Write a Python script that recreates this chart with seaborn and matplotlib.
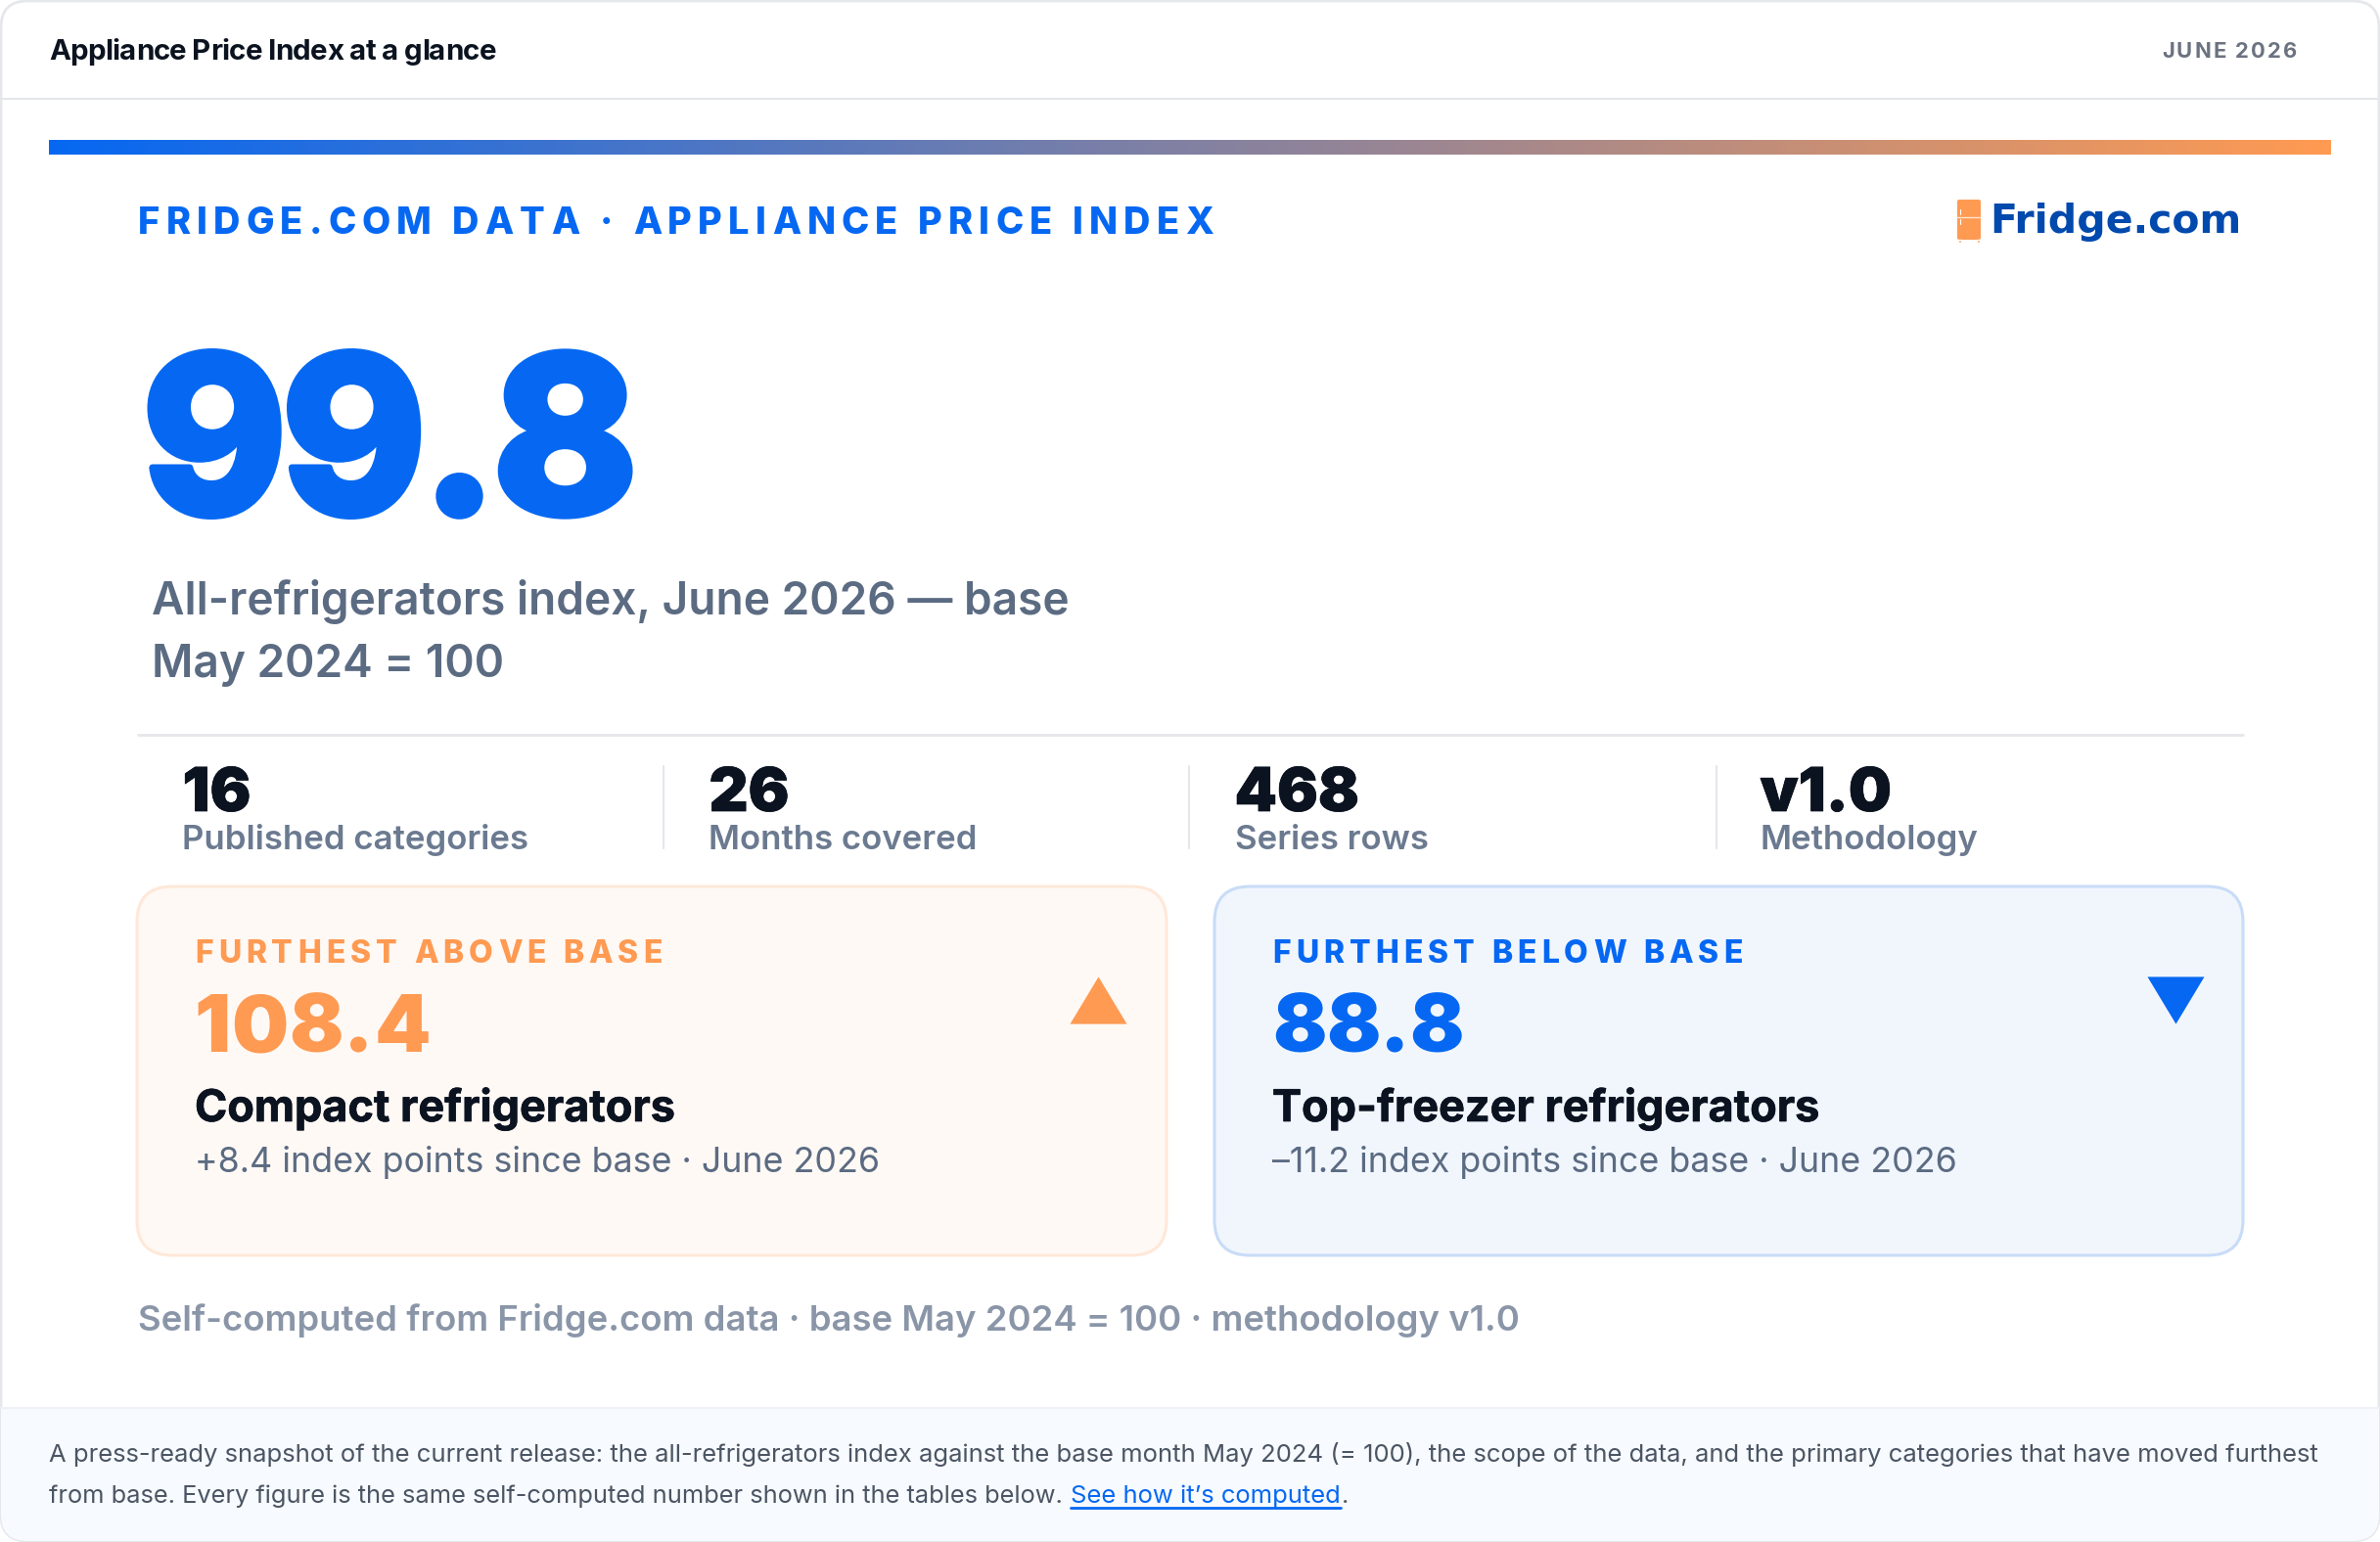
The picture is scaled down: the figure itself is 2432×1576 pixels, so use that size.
import matplotlib
matplotlib.use("Agg")
import matplotlib.pyplot as plt
import numpy as np
import pandas as pd
import seaborn as sns
from matplotlib import font_manager as fm
from matplotlib.colors import LinearSegmentedColormap
from matplotlib.ft2font import LoadFlags
from matplotlib.patches import FancyBboxPatch, Rectangle
from matplotlib.patheffects import withStroke

# Values and wording of the snapshot
headline_value = "99.8"
stat_values = ["16", "26", "468", "v1.0"]
stat_labels = ["Published categories", "Months covered", "Series rows", "Methodology"]
card_kickers = ["FURTHEST ABOVE BASE", "FURTHEST BELOW BASE"]
card_values = ["108.4", "88.8"]
card_names = ["Compact refrigerators", "Top-freezer refrigerators"]
card_notes = ["+8.4 index points since base · June 2026", "–11.2 index points since base · June 2026"]
card_direction = ["up", "down"]

BLUE = "#0668f2"
ORANGE = "#ff9a52"
INK = "#0b1320"
SLATE = "#5b6b82"

sns.set_theme(style="white")
plt.rcParams["font.family"] = ["Inter", "DejaVu Sans"]

W, H = 2432, 1576
fig = plt.figure(figsize=(W / 100, H / 100), dpi=100, facecolor="white")
ax = fig.add_axes([0, 0, 1, 1])


def txt(x, y, s, px, weight="normal", color=INK, ha="left", family=None, stroke=0):
    t = ax.text(x, y, s, fontsize=px * 0.72, fontweight=weight, color=color, ha=ha, va="baseline", family=family)
    if stroke:
        t.set_path_effects([withStroke(linewidth=stroke, foreground=color)])
    return t


def spaced(x0, x1, y, s, px, weight, color, stroke=0):
    # matplotlib has no letter spacing, so each glyph goes down on its own
    prop = fm.FontProperties(family="Inter", weight=weight)
    font = fm.get_font(fm.findfont(prop))
    font.set_size(px, 72)
    adv = [font.load_char(ord(c), flags=LoadFlags.NO_HINTING).linearHoriAdvance / 65536 for c in s]
    gap = (x1 - x0 - sum(adv)) / (len(s) - 1)
    x = x0
    for c, a in zip(s, adv):
        txt(x, y, c, px, weight, color, stroke=stroke)
        x += a + gap


def box(x0, y0, x1, y1, r, face, edge, lw, z=1):
    p = FancyBboxPatch((x0, y0), x1 - x0, y1 - y0, boxstyle=f"round,pad=0,rounding_size={r}",
                       facecolor=face, edgecolor=edge, linewidth=lw, zorder=z)
    ax.add_patch(p)
    return p


# outer frame, header rule, footer strip
frame = box(1, 1, W - 1, H - 1, 27, "white", "#e5e7eb", 2.0, z=0)
footer = Rectangle((0, 1439), W, H - 1439, facecolor="#f7fafe", edgecolor="none", zorder=0.5)
ax.add_patch(footer)
footer.set_clip_path(frame)
ax.plot([1, W - 1], [1439, 1439], color="#eef1f5", lw=1.5, zorder=0.6)
ax.plot([1, W - 1], [101, 101], color="#e5e7eb", lw=1.5)

spaced(50, 507, 61, "Appliance Price Index at a glance", 29.5, "bold", INK)
spaced(2209, 2347, 58.7, "JUNE 2026", 22, "bold", "#6b7280")

# gradient rule
cmap = LinearSegmentedColormap.from_list("rule", [BLUE, ORANGE])
ax.imshow(np.linspace(0, 1, 512).reshape(1, -1), extent=(50, 2382, 158, 143), cmap=cmap, aspect="auto", zorder=1)

spaced(141, 1240, 239, "FRIDGE.COM DATA · APPLIANCE PRICE INDEX", 38, "heavy", BLUE)

# logo
box(2000, 204, 2024, 245, 2, ORANGE, "none", 0, z=2)
ax.plot([2000, 2024], [221.7, 221.7], color="#ffe3cf", lw=1, zorder=3)
ax.plot([2002.5, 2002.5, np.nan, 2002.5, 2002.5], [214, 219, np.nan, 224, 229], color="white", lw=0.8, zorder=3)
ax.add_patch(Rectangle((2001, 245), 3, 3, facecolor=ORANGE, zorder=2))
ax.add_patch(Rectangle((2020, 245), 3, 3, facecolor=ORANGE, zorder=2))
txt(2033, 238, "Fridge.com", 41, "bold", "#0049ad", family="DejaVu Sans")

# headline
spaced(145, 652, 525, headline_value, 224, "heavy", BLUE, stroke=5)
txt(155, 628, "All-refrigerators index, June 2026 — base", 46, "semibold", SLATE)
txt(155, 692, "May 2024 = 100", 46, "semibold", SLATE)
ax.plot([141, 2292], [751, 751], color="#e5e7eb", lw=2)

# scope stats
stat_x = [186.5, 724.5, 1261.5, 1798.5]
for x, v, lab in zip(stat_x, stat_values, stat_labels):
    txt(x, 829, v, 62, "black", INK, stroke=0.5)
    txt(x, 868, lab, 34.8, "semibold", "#6b7a90")
for x in [678, 1215, 1754]:
    ax.plot([x, x], [783, 867], color="#e5e7eb", lw=1.5)

# the two movers
card_x = [(140, 1192), (1241, 2292)]
card_face = ["#fff9f5", "#f1f6fd"]
card_edge = ["#ffe8d9", "#c8dcf7"]
card_color = [ORANGE, BLUE]
kick_x = [(199, 677), (1300, 1781)]
value_x = [(198, 440), (1300, 1496)]
for i in range(2):
    x0, x1 = card_x[i]
    box(x0, 906, x1, 1283, 36, card_face[i], card_edge[i], 2.2)
    tx = x0 + 59
    spaced(kick_x[i][0], kick_x[i][1], 984, card_kickers[i], 32, "heavy", card_color[i])
    spaced(value_x[i][0], value_x[i][1], 1075, card_values[i], 82, "black", card_color[i])
    txt(tx, 1146, card_names[i], 45, "bold", INK, stroke=0.5)
    txt(tx, 1198, card_notes[i], 35.8, "normal", SLATE)

# direction markers go through seaborn so they sit on the same axes
up = [(-1, -0.83), (1, -0.83), (0, 0.83)]
down = [(-1, 0.83), (1, 0.83), (0, -0.83)]
tri = pd.DataFrame({"x": [1122, 2223], "y": [1022, 1022], "dir": card_direction})
for d, verts, c in zip(["up", "down"], [up, down], card_color):
    sns.scatterplot(data=tri[tri["dir"] == d], x="x", y="y", marker=verts, s=1747, color=c,
                    linewidth=0, legend=False, ax=ax, zorder=4)

txt(141, 1360, "Self-computed from Fridge.com data · base May 2024 = 100 · methodology v1.0", 36.5, "semibold", "#8a96a8")

# footnote
NOTE = "#4b5563"
txt(50, 1494, "A press-ready snapshot of the current release: the all-refrigerators index against the base month May 2024 (= 100), the scope of the data, and the primary categories that have moved furthest", 25.65, "normal", NOTE)
txt(50, 1536, "from base. Every figure is the same self-computed number shown in the tables below.", 25.4, "normal", NOTE)
txt(1094, 1536, "See how it’s computed", 25.6, "normal", BLUE)
ax.plot([1094, 1370], [1541, 1541], color=BLUE, lw=2)
txt(1371, 1536, ".", 25.6, "normal", NOTE)

ax.set_xlim(0, W)
ax.set_ylim(H, 0)
ax.set_xlabel("")
ax.set_ylabel("")
ax.axis("off")

plt.savefig("out.png", dpi=100, facecolor="white")
